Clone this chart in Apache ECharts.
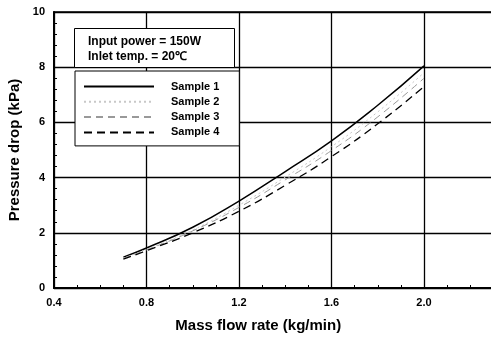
<!DOCTYPE html>
<html>
<head>
<meta charset="utf-8">
<script src="https://cdn.jsdelivr.net/npm/echarts@6/dist/echarts.min.js"></script>
<style>
  html, body { margin: 0; padding: 0; background: #fff; }
  #chart { width: 491px; height: 338px; }
</style>
</head>
<body>
<div id="chart"></div>
<script>
// mass flow rate (kg/min)
const flowRate = [0.7, 0.8, 1.0, 1.2, 1.4, 1.6, 1.8, 2.0]
// pressure drop (kPa)
const sample1 = [1.12, 1.45, 2.2, 3.15, 4.22, 5.33, 6.62, 8.05]
const sample2 = [1.08, 1.40, 2.1, 3.0, 4.02, 5.12, 6.38, 7.8]
const sample3 = [1.08, 1.38, 2.07, 2.92, 3.92, 4.98, 6.2, 7.6]
const sample4 = [1.05, 1.35, 2.0, 2.78, 3.72, 4.76, 5.95, 7.3]
const seriesNames = ['Sample 1', 'Sample 2', 'Sample 3', 'Sample 4']
const noteLines = ['Input power = 150W', 'Inlet temp. = 20℃']

const font = 'Arial, "Liberation Sans", sans-serif'

function pairs(ys) {
  return flowRate.map((x, i) => [x, ys[i]])
}

function line(name, ys, style) {
  return {
    name,
    type: 'line',
    data: pairs(ys),
    smooth: true,
    symbol: 'none',
    itemStyle: { color: style.color },
    lineStyle: style,
    z: 5,
  }
}

const chart = echarts.init(document.getElementById('chart'), null, { renderer: 'canvas' })

chart.setOption({
  animation: false,
  backgroundColor: '#fff',
  textStyle: { fontFamily: font },
  grid: {
    left: 54, top: 12, bottom: 50, right: -25.5,
    outerBoundsMode: 'none',
    containLabel: false,
    show: true, borderColor: '#000', borderWidth: 1.5,
  },
  xAxis: {
    type: 'value',
    min: 0.4, max: 2.4, interval: 0.4,
    name: 'Mass flow rate (kg/min)',
    nameLocation: 'middle',
    nameGap: 30,
    nameTextStyle: {
      fontSize: 15, fontWeight: 'bold', color: '#000',
      padding: [0, 54, 0, 0],
    },
    axisLine: { lineStyle: { color: '#000', width: 2 } },
    axisTick: { inside: true, length: 4, lineStyle: { color: '#000' } },
    minorTick: { show: true, splitNumber: 4, length: 3, lineStyle: { color: '#000' } },
    axisLabel: {
      color: '#000', fontSize: 11, fontWeight: 'bold', margin: 9,
      formatter: (v) => v.toFixed(1),
    },
    splitLine: { lineStyle: { color: '#000', width: 1.3 } },
  },
  yAxis: {
    type: 'value',
    min: 0, max: 10, interval: 2,
    name: 'Pressure drop (kPa)',
    nameLocation: 'middle',
    nameGap: 32,
    nameTextStyle: { fontSize: 15, fontWeight: 'bold', color: '#000' },
    axisLine: { show: true, lineStyle: { color: '#000', width: 2 } },
    axisTick: { show: true, inside: true, length: 4, lineStyle: { color: '#000' } },
    minorTick: { show: true, splitNumber: 5, length: 3, lineStyle: { color: '#000' } },
    axisLabel: { color: '#000', fontSize: 11, fontWeight: 'bold', margin: 9 },
    splitLine: { lineStyle: { color: '#000', width: 1.3 } },
  },
  legend: {
    orient: 'vertical',
    left: 75, top: 71,
    padding: [10, 20, 8, 8],
    itemGap: 4.3,
    itemWidth: 70,
    itemHeight: 10,
    itemStyle: { opacity: 0 },
    backgroundColor: '#fff',
    borderColor: '#000',
    borderWidth: 1,
    borderRadius: 0,
    textStyle: { fontSize: 11, fontWeight: 'bold', color: '#000', padding: [0, 0, 0, 12] },
    data: seriesNames,
  },
  graphic: [
    {
      type: 'rect',
      left: 74, top: 28,
      z: 100,
      shape: { x: 0, y: 0, width: 160, height: 39 },
      style: { fill: '#fff', stroke: '#000', lineWidth: 1 },
    },
    {
      type: 'text',
      left: 88, top: 34,
      z: 101,
      style: {
        text: noteLines.join('\n'),
        font: 'bold 12px ' + font,
        lineHeight: 15,
        fill: '#000',
      },
    },
  ],
  series: [
    line(seriesNames[0], sample1, { color: '#000', width: 1.5, type: 'solid' }),
    line(seriesNames[1], sample2, { color: '#c8c8c8', width: 1, type: [2, 3] }),
    line(seriesNames[2], sample3, { color: '#999', width: 1, type: [7, 5] }),
    line(seriesNames[3], sample4, { color: '#000', width: 1.3, type: [8, 5] }),
  ],
})
</script>
</body>
</html>
